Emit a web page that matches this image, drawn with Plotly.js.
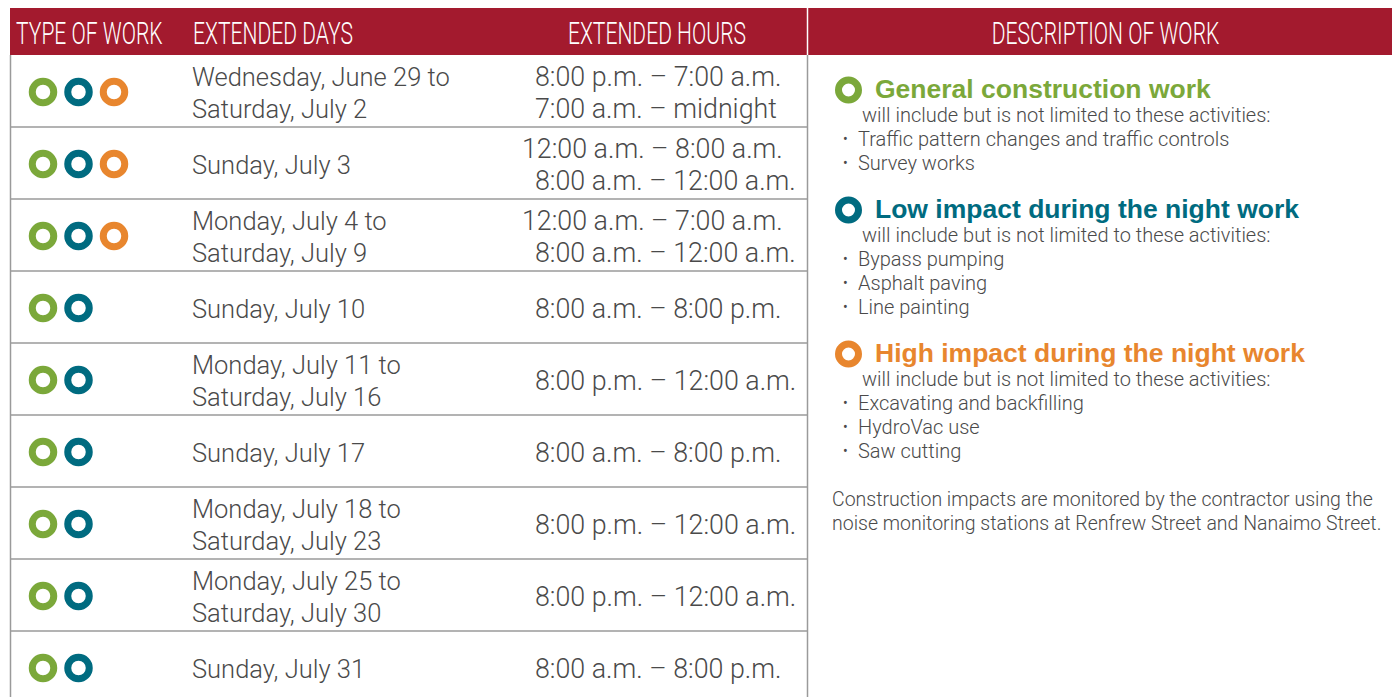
<!DOCTYPE html>
<html>
<head>
<meta charset="utf-8">
<script src="https://cdn.plot.ly/plotly-3.0.1.min.js"></script>
<style>html,body{margin:0;padding:0;background:#fff;}#chart{width:1392px;height:697px;}</style>
</head>
<body>
<div id="chart"></div>
<script>
// ---------- data ----------
const headers = ["TYPE OF WORK", "EXTENDED DAYS", "EXTENDED HOURS", "DESCRIPTION OF WORK"];
const workTypes = ["General construction work", "Low impact during the night work", "High impact during the night work"];
const rowTypeCount = [3, 3, 3, 2, 2, 2, 2, 2, 2];
const extendedDays = [
  ["Wednesday, June 29 to", "Saturday, July 2"],
  ["Sunday, July 3"],
  ["Monday, July 4 to", "Saturday, July 9"],
  ["Sunday, July 10"],
  ["Monday, July 11 to", "Saturday, July 16"],
  ["Sunday, July 17"],
  ["Monday, July 18 to", "Saturday, July 23"],
  ["Monday, July 25 to", "Saturday, July 30"],
  ["Sunday, July 31"]
];
const extendedHours = [
  ["8:00 p.m. – 7:00 a.m.", "7:00 a.m. – midnight"],
  ["12:00 a.m. – 8:00 a.m.", "8:00 a.m. – 12:00 a.m."],
  ["12:00 a.m. – 7:00 a.m.", "8:00 a.m. – 12:00 a.m."],
  ["8:00 a.m. – 8:00 p.m."],
  ["8:00 p.m. – 12:00 a.m."],
  ["8:00 a.m. – 8:00 p.m."],
  ["8:00 p.m. – 12:00 a.m."],
  ["8:00 p.m. – 12:00 a.m."],
  ["8:00 a.m. – 8:00 p.m."]
];
const introLine = "will include but is not limited to these activities:";
const activities = [
  ["Traffic pattern changes and traffic controls", "Survey works"],
  ["Bypass pumping", "Asphalt paving", "Line painting"],
  ["Excavating and backfilling", "HydroVac use", "Saw cutting"]
];
const footnote = ["Construction impacts are monitored by the contractor using the", "noise monitoring stations at Renfrew Street and Nanaimo Street."];

// ---------- styles ----------
const RED = "#A31A2E", GRID = "#9a9a9a", TXT = "#4a4a4a";
const typeColors = ["#7BA83A", "#006B80", "#E8862E"];
const BODY = "Roboto, 'Liberation Sans', sans-serif";
const HEAD = "Roboto, 'Liberation Sans', sans-serif";
const BOLD = "'Liberation Sans', Arial, sans-serif";
const HEAD_STRETCH = 0.68;

const W = 1392, H = 697;
const headTop = 8, headBot = 55, rowH = 72, tableL = 10.5, tableR = 807.5;
const rowCenter = i => headBot + rowH * i + rowH / 2;

const shapes = [];
const annotations = [];
const traces = [];

// header bar
shapes.push({type: "rect", xref: "x", yref: "y", x0: tableL - 0.5, x1: W, y0: headTop, y1: headBot, fillcolor: RED, line: {width: 0}, layer: "below"});
shapes.push({type: "line", x0: tableR, x1: tableR, y0: headTop, y1: headBot, line: {color: "#ffffff", width: 1.5}});
// table borders
shapes.push({type: "line", x0: tableL, x1: tableL, y0: headBot, y1: H, line: {color: GRID, width: 1.5}});
shapes.push({type: "line", x0: tableR, x1: tableR, y0: headBot, y1: H, line: {color: GRID, width: 1.5}});
for (let i = 1; i < rowTypeCount.length; i++) {
  const y = headBot + rowH * i;
  shapes.push({type: "line", x0: tableL, x1: tableR, y0: y, y1: y, line: {color: GRID, width: 1.5}});
}

// header labels
const headPos = [[15, "left"], [192, "left"], [657, "center"], [1105, "center"]];
headers.forEach((h, i) => {
  annotations.push({x: headPos[i][0], y: 33, xanchor: headPos[i][1], yanchor: "middle", text: h, showarrow: false,
    font: {family: HEAD, size: 31, color: "#ffffff", weight: 300}});
});

// type circles in table
workTypes.forEach((t, k) => {
  const xs = [], ys = [];
  rowTypeCount.forEach((n, i) => { if (k < n) { xs.push(43 + 35.5 * k); ys.push(rowCenter(i) + 1); } });
  traces.push({type: "scatter", mode: "markers", x: xs, y: ys, hoverinfo: "skip", showlegend: false,
    marker: {symbol: "circle-open", size: 21.5, color: typeColors[k], line: {width: 7, color: typeColors[k]}}});
});

// day and hour texts
const lineGap = 32;
extendedDays.forEach((lines, i) => {
  const c = rowCenter(i) + 2;
  lines.forEach((s, j) => {
    const y = c + (j - (lines.length - 1) / 2) * lineGap;
    annotations.push({x: 191, y: y, xanchor: "left", yanchor: "middle", text: s, showarrow: false,
      font: {family: BODY, size: 25.5, color: TXT, weight: 300}});
  });
});
extendedHours.forEach((lines, i) => {
  const c = rowCenter(i) + 2;
  lines.forEach((s, j) => {
    const y = c + (j - (lines.length - 1) / 2) * lineGap;
    const x = s.startsWith("12") ? 521 : 534;
    annotations.push({x: x, y: y, xanchor: "left", yanchor: "middle", text: s, showarrow: false,
      font: {family: BODY, size: 26.8, color: TXT, weight: 300}});
  });
});

// description block
const headingY = [89, 209, 353];
workTypes.forEach((t, k) => {
  const y0 = headingY[k];
  traces.push({type: "scatter", mode: "markers", x: [848.5], y: [y0 + 1], hoverinfo: "skip", showlegend: false,
    marker: {symbol: "circle-open", size: 20, color: typeColors[k], line: {width: 7, color: typeColors[k]}}});
  annotations.push({x: 874, y: y0, xanchor: "left", yanchor: "middle", text: "<b>" + t + "</b>", showarrow: false,
    font: {family: BOLD, size: 26.5, color: typeColors[k]}});
  annotations.push({x: 861, y: y0 + 26, xanchor: "left", yanchor: "middle", text: introLine, showarrow: false,
    font: {family: BODY, size: 20, color: TXT, weight: 300}});
  activities[k].forEach((a, j) => {
    const y = y0 + 50 + 24 * j;
    annotations.push({x: 842, y: y, xanchor: "left", yanchor: "middle", text: "•", showarrow: false,
      font: {family: BODY, size: 14, color: TXT}});
    annotations.push({x: 857, y: y, xanchor: "left", yanchor: "middle", text: a, showarrow: false,
      font: {family: BODY, size: 20, color: TXT, weight: 300}});
  });
});
footnote.forEach((s, j) => {
  annotations.push({x: 831, y: 499 + 24 * j, xanchor: "left", yanchor: "middle", text: s, showarrow: false,
    font: {family: BODY, size: 19.5, color: TXT, weight: 300}});
});

const layout = {
  width: W, height: H,
  margin: {l: 0, r: 0, t: 0, b: 0, pad: 0},
  paper_bgcolor: "#ffffff", plot_bgcolor: "#ffffff",
  xaxis: {range: [0, W], visible: false, fixedrange: true},
  yaxis: {range: [H, 0], visible: false, fixedrange: true},
  shapes: shapes,
  annotations: annotations.map(a => Object.assign({xref: "x", yref: "y", borderpad: 0}, a)),
  showlegend: false
};
Plotly.newPlot("chart", traces, layout, {displayModeBar: false, staticPlot: true}).then(gd => {
  // condense the header labels horizontally (the original uses a narrow display face)
  const groups = gd.querySelectorAll("g.annotation");
  headers.forEach((h, i) => {
    const g = groups[i];
    if (!g) return;
    const txt = g.querySelector("text");
    if (!txt) return;
    const bb = txt.getBBox();
    const cx = headPos[i][1] === "left" ? bb.x : bb.x + bb.width / 2;
    txt.setAttribute("transform", `translate(${cx},0) scale(${HEAD_STRETCH},1) translate(${-cx},0)`);
  });
});
</script>
</body>
</html>
